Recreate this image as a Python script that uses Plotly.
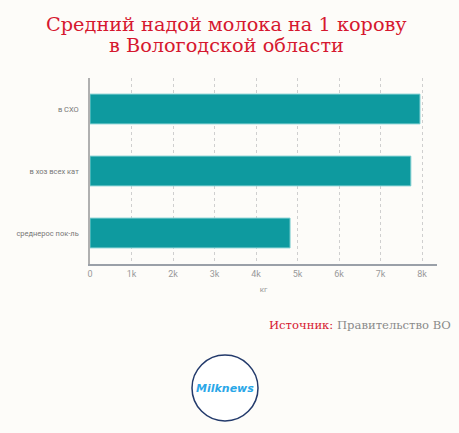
import plotly.graph_objects as go

categories = ["среднерос пок-ль", "в хоз всех кат", "в СХО"]
values = [4820, 7730, 7950]
tick_vals = [0, 1000, 2000, 3000, 4000, 5000, 6000, 7000, 8000]
tick_text = ["0", "1k", "2k", "3k", "4k", "5k", "6k", "7k", "8k"]
title_lines = ["Средний надой молока на 1 корову", "в Вологодской области"]

L, R, T, B = 90, 437, 78, 264
W, H = 459, 433
pw, ph = R - L, B - T

def px(x):
    return (x - L) / pw

def py(y):
    return (B - y) / ph

fig = go.Figure(go.Bar(
    y=categories, x=values, orientation="h", width=0.48,
    marker=dict(color="#0e9a9f", line=dict(color="#7fcfd1", width=1)),
    hoverinfo="skip",
))

fig.update_layout(
    width=W, height=H,
    margin=dict(l=L, r=W - R, t=T, b=H - B),
    paper_bgcolor="#fdfcf9", plot_bgcolor="#fdfcf9",
    showlegend=False,
    font=dict(family="Roboto, sans-serif", color="#888"),
    xaxis=dict(
        range=[0, 8360], tickvals=tick_vals, ticktext=tick_text,
        showgrid=True, gridcolor="#cfcfcf", griddash="3px,3px", gridwidth=1,
        showline=True, linecolor="#9aa0a8", linewidth=1.5,
        zeroline=False, ticks="", ticklen=0,
        tickfont=dict(size=9, color="#999999"),
        title=dict(text="кг", font=dict(size=8, color="#999999"), standoff=9),
    ),
    yaxis=dict(
        range=[-0.5, 2.5], showgrid=False,
        showline=True, linecolor="#b0b0b0", linewidth=1.5,
        ticks="", ticklen=0, ticklabelstandoff=8,
        tickfont=dict(size=7.5, color="#777777"),
    ),
)

for i, line in enumerate(title_lines):
    fig.add_annotation(
        xref="paper", yref="paper", x=px(226), y=py(24 + 22 * i),
        text=line, showarrow=False, xanchor="center", yanchor="middle",
        font=dict(family="DejaVu Serif, serif", size=19.3, color="#d6182f"),
    )

fig.add_annotation(
    xref="paper", yref="paper", x=px(453), y=py(325),
    text="<span style='color:#d6182f'>Источник:</span> Правительство ВО",
    showarrow=False, xanchor="right", yanchor="middle",
    font=dict(family="DejaVu Serif, serif", size=11.6, color="#8a8a8a"),
)

cx, cy, r = 225, 388, 33
fig.add_shape(
    type="circle", xref="paper", yref="paper",
    x0=px(cx - r), x1=px(cx + r), y0=py(cy + r), y1=py(cy - r),
    line=dict(color="#233a6b", width=1.5), fillcolor="#ffffff",
)
fig.add_annotation(
    xref="paper", yref="paper", x=px(cx), y=py(cy),
    text="<i><b>Milknews</b></i>", showarrow=False,
    xanchor="center", yanchor="middle",
    font=dict(family="DejaVu Sans, sans-serif", size=11, color="#2aa7e8"),
)

fig.write_html("out.html")
